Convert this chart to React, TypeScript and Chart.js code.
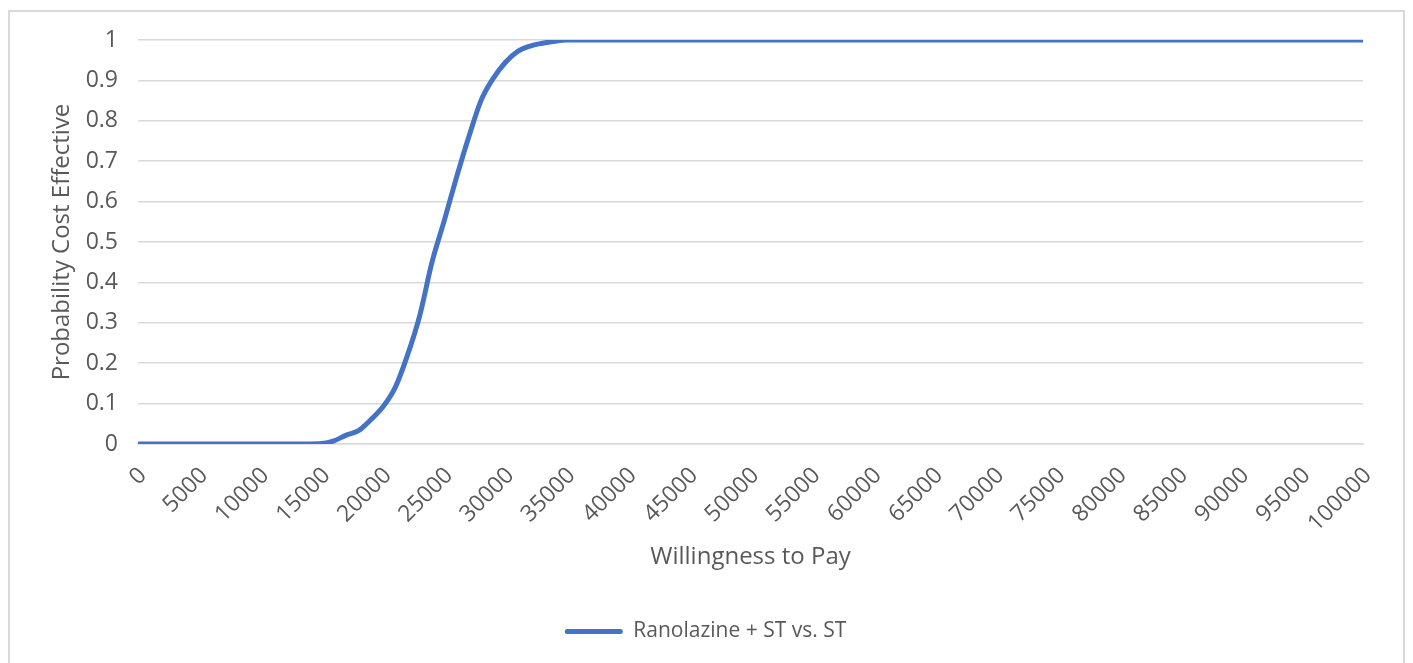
import React, { useEffect, useRef } from "react";
import { Chart, registerables } from "chart.js";

Chart.register(...registerables);

const wtp: number[] = [
  0, 1000, 2000, 3000, 4000, 5000, 6000, 7000, 8000, 9000,
  10000, 11000, 12000, 13000, 14000, 15000, 16000, 17000, 18000, 19000,
  20000, 21000, 22000, 23000, 24000, 25000, 26000, 27000, 28000, 29000,
  30000, 31000, 32000, 33000, 34000, 35000, 40000, 45000, 50000, 55000,
  60000, 65000, 70000, 75000, 80000, 85000, 90000, 95000, 100000,
];

const probability: number[] = [
  0, 0, 0, 0, 0, 0, 0, 0, 0, 0,
  0, 0, 0, 0, 0, 0.001, 0.008, 0.022, 0.033, 0.06,
  0.092, 0.14, 0.22, 0.318, 0.45, 0.553, 0.66, 0.76, 0.85, 0.905,
  0.945, 0.972, 0.985, 0.992, 0.997, 1, 1, 1, 1, 1,
  1, 1, 1, 1, 1, 1, 1, 1, 1,
];

const seriesName = "Ranolazine + ST vs. ST";
const xTitle = "Willingness to Pay";
const yTitle = "Probability Cost Effective";

const FONT = "'Open Sans', 'Liberation Sans', sans-serif";
const GREY = "#595959";
const BLUE = "#4472c4";
const GRID = "#d9d9d9";

export default function App() {
  const ref = useRef<HTMLCanvasElement | null>(null);
  useEffect(() => {
    if (!ref.current) return;
    const chart = new Chart(ref.current, {
      type: "line",
      data: {
        datasets: [
          {
            label: seriesName,
            data: wtp.map((x, i) => ({ x, y: probability[i] })),
            borderColor: BLUE,
            backgroundColor: BLUE,
            borderWidth: 5,
            pointRadius: 0,
            cubicInterpolationMode: "monotone",
            borderCapStyle: "round",
            borderJoinStyle: "round",
          },
        ],
      },
      options: {
        responsive: true,
        maintainAspectRatio: false,
        animation: false,
        layout: { padding: { left: 38, right: 40, top: 2, bottom: 16 } },
        plugins: {
          tooltip: { enabled: false },
          legend: {
            position: "bottom",
            labels: {
              font: { family: FONT, size: 21 },
              color: GREY,
              boxWidth: 58,
              boxHeight: 5,
              padding: 49,
              generateLabels: () => [
                {
                  text: seriesName,
                  fillStyle: BLUE,
                  strokeStyle: BLUE,
                  lineWidth: 0,
                  borderRadius: 2.5,
                  fontColor: GREY,
                  datasetIndex: 0,
                  hidden: false,
                },
              ],
            },
          },
        },
        scales: {
          x: {
            type: "linear",
            min: 0,
            max: 100000,
            afterFit: (s: any) => {
              s.height = 128;
            },
            ticks: {
              stepSize: 5000,
              autoSkip: false,
              minRotation: 45,
              maxRotation: 45,
              padding: 18,
              labelOffset: 5,
              color: GREY,
              font: { family: FONT, size: 23 },
              callback: (v: any) => String(v),
            },
            grid: { display: false, drawTicks: false },
            border: { display: true, color: GRID, width: 1.5 },
            title: {
              display: true,
              text: xTitle,
              color: GREY,
              font: { family: FONT, size: 24 },
              padding: { top: 0, bottom: 0 },
            },
          },
          y: {
            min: 0,
            max: 1,
            afterFit: (s: any) => {
              s.width = 90;
              s.paddingTop = 28;
            },
            ticks: {
              stepSize: 0.1,
              padding: 20,
              color: GREY,
              font: { family: FONT, size: 23 },
              callback: (v: any) => String(Math.round(Number(v) * 10) / 10),
            },
            grid: { color: GRID, lineWidth: 1.5, drawTicks: false },
            border: { display: false },
            title: {
              display: true,
              text: yTitle,
              color: GREY,
              font: { family: FONT, size: 24 },
              padding: { top: 0, bottom: 0 },
            },
          },
        },
      },
    });
    return () => chart.destroy();
  }, []);
  return (
    <div
      style={{
        width: 1397,
        height: 660,
        marginTop: 2,
        border: "2px solid #d9d9d9",
        boxSizing: "border-box",
        position: "relative",
        background: "#fff",
      }}
    >
      <canvas ref={ref} />
    </div>
  );
}
